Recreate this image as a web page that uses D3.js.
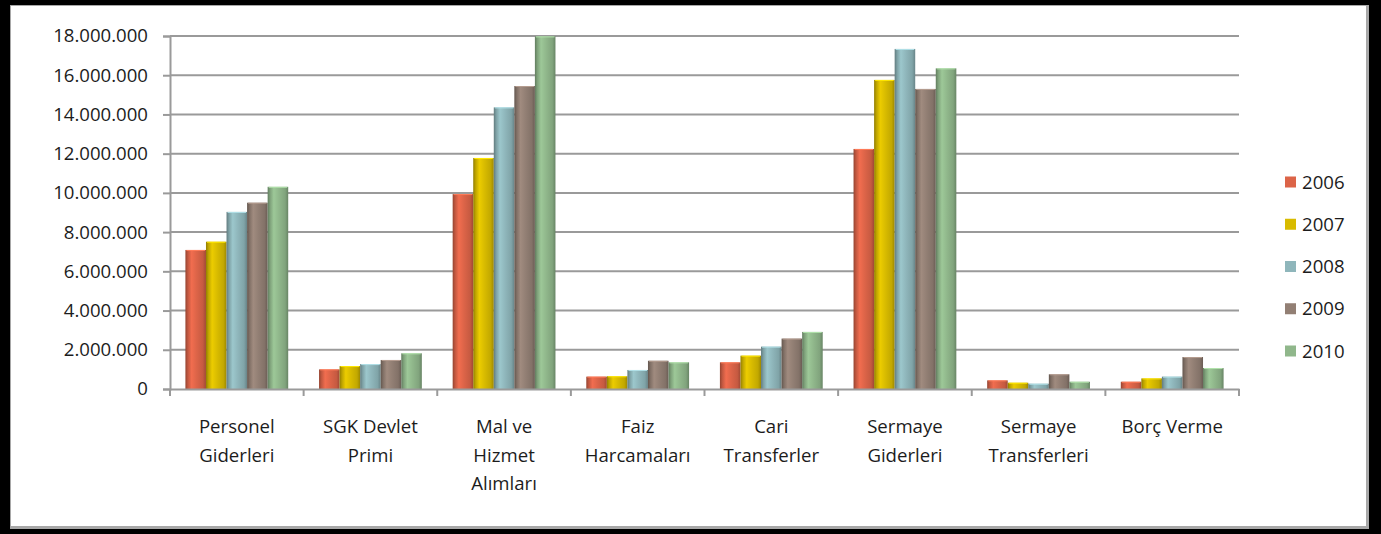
<!DOCTYPE html>
<html>
<head>
<meta charset="utf-8">
<script src="https://cdn.jsdelivr.net/npm/d3@7"></script>
<style>
  html, body { margin: 0; padding: 0; background: #000; }
  svg { display: block; }
  .lbl { font-family: "Open Sans", "DejaVu Sans", sans-serif; font-size: 18.6px; fill: #1c1c1c; }
</style>
</head>
<body>
<svg id="chart" width="1381" height="534"></svg>
<script>
// ---- data ----
const categories = [
  'Personel Giderleri', 'SGK Devlet Primi', 'Mal ve Hizmet Alımları', 'Faiz Harcamaları',
  'Cari Transferler', 'Sermaye Giderleri', 'Sermaye Transferleri', 'Borç Verme'
];
// wrapped tick label lines, as shown under the axis
const categoryLines = [
  ['Personel', 'Giderleri'], ['SGK Devlet', 'Primi'], ['Mal ve', 'Hizmet', 'Alımları'],
  ['Faiz', 'Harcamaları'], ['Cari', 'Transferler'], ['Sermaye', 'Giderleri'],
  ['Sermaye', 'Transferleri'], ['Borç Verme']
];
const years = ['2006', '2007', '2008', '2009', '2010'];

const v2006 = [7090000, 1000000, 9940000, 630000, 1360000, 12240000, 440000, 370000];
const v2007 = [7510000, 1170000, 11780000, 650000, 1700000, 15760000, 320000, 540000];
const v2008 = [9030000, 1270000, 14360000, 970000, 2160000, 17340000, 270000, 630000];
const v2009 = [9500000, 1480000, 15450000, 1440000, 2570000, 15300000, 750000, 1630000];
const v2010 = [10310000, 1820000, 17980000, 1360000, 2910000, 16350000, 370000, 1070000];
const seriesValues = [v2006, v2007, v2008, v2009, v2010];

const yTicks = [0, 2e6, 4e6, 6e6, 8e6, 10e6, 12e6, 14e6, 16e6, 18e6];

const seriesColors = ['#dc6448', '#d8bb00', '#8fb6bb', '#927f74', '#90b78b'];

// ---- layout ----
const plot = { left: 170, right: 1239, top: 36, bottom: 389 };

const svg = d3.select('#chart');

// frame: white panel inside the black border
svg.append('rect')
  .attr('x', 10).attr('y', 5).attr('width', 1359).attr('height', 524)
  .attr('fill', '#a8a8a8');
svg.append('rect')
  .attr('x', 11).attr('y', 6).attr('width', 1355).attr('height', 520)
  .attr('fill', '#fff');

const fmt = d3.formatLocale({ decimal: ',', thousands: '.', grouping: [3], currency: ['', ''] }).format(',d');

const y = d3.scaleLinear().domain([0, 18e6]).range([plot.bottom, plot.top]);
const x = d3.scaleBand().domain(categories).range([plot.left, plot.right]);
const xs = d3.scaleBand().domain(years).range([0, x.bandwidth()]).paddingInner(0).paddingOuter(0.75);

// bar gradients (dark edges, light stripe left of centre)
const defs = svg.append('defs');
years.forEach((yr, i) => {
  const base = d3.color(seriesColors[i]);
  const g = defs.append('linearGradient').attr('id', 'g' + yr)
    .attr('x1', 0).attr('x2', 1).attr('y1', 0).attr('y2', 0);
  const stops = [
    [0, base.darker(1.1)],
    [0.12, base.darker(0.35)],
    [0.3, base.brighter(0.25)],
    [0.55, base],
    [0.85, base.darker(0.3)],
    [1, base.darker(0.9)]
  ];
  stops.forEach(s => g.append('stop').attr('offset', s[0]).attr('stop-color', s[1].formatHex()));
});

// gridlines
svg.append('g').selectAll('line')
  .data(yTicks.filter(t => t > 0))
  .join('line')
  .attr('x1', plot.left).attr('x2', plot.right)
  .attr('y1', d => y(d)).attr('y2', d => y(d))
  .attr('stroke', '#9a9a9a').attr('stroke-width', 2);

// y axis
const yAxis = svg.append('g')
  .attr('transform', `translate(${plot.left},0)`)
  .call(d3.axisLeft(y).tickValues(yTicks).tickFormat(fmt).tickSize(7).tickPadding(15));
yAxis.select('.domain').attr('stroke', '#9a9a9a').attr('stroke-width', 2);
yAxis.selectAll('.tick line').attr('stroke', '#9a9a9a').attr('stroke-width', 2);
yAxis.selectAll('.tick text').attr('class', 'lbl').attr('fill', null).attr('font-size', null).attr('font-family', null);

// bars
const groups = svg.append('g').selectAll('g')
  .data(categories)
  .join('g')
  .attr('transform', d => `translate(${x(d)},0)`);

groups.selectAll('rect')
  .data((c, ci) => years.map((yr, si) => ({ yr, v: seriesValues[si][ci] })))
  .join('rect')
  .attr('x', d => xs(d.yr))
  .attr('y', d => y(d.v))
  .attr('width', xs.bandwidth())
  .attr('height', d => plot.bottom - y(d.v))
  .attr('fill', d => `url(#g${d.yr})`);

// top highlight on each bar
groups.selectAll('line.cap')
  .data((c, ci) => years.map((yr, si) => ({ yr, v: seriesValues[si][ci], i: si })))
  .join('line')
  .attr('class', 'cap')
  .attr('x1', d => xs(d.yr) + 1).attr('x2', d => xs(d.yr) + xs.bandwidth() - 1)
  .attr('y1', d => y(d.v) + 0.5).attr('y2', d => y(d.v) + 0.5)
  .attr('stroke', d => d3.color(seriesColors[d.i]).brighter(0.6).formatHex())
  .attr('stroke-width', 1);

// x axis
const xAxis = svg.append('g')
  .attr('transform', `translate(0,${plot.bottom})`)
  .call(d3.axisBottom(x).tickSize(0).tickFormat(''));
xAxis.select('.domain').attr('stroke', '#9a9a9a').attr('stroke-width', 2);

// category separators
svg.append('g').selectAll('line')
  .data(categories.map(c => x(c)).concat([plot.right]))
  .join('line')
  .attr('x1', d => d).attr('x2', d => d)
  .attr('y1', plot.bottom).attr('y2', plot.bottom + 7)
  .attr('stroke', '#9a9a9a').attr('stroke-width', 2);

// category labels
const catText = svg.append('g').selectAll('text')
  .data(categories)
  .join('text')
  .attr('class', 'lbl')
  .attr('text-anchor', 'middle')
  .attr('x', d => x(d) + x.bandwidth() / 2)
  .attr('y', 433);
catText.selectAll('tspan')
  .data((d, i) => categoryLines[i])
  .join('tspan')
  .attr('x', function() { return this.parentNode.getAttribute('x'); })
  .attr('dy', (d, i) => i === 0 ? 0 : 28.5)
  .text(d => d);

// legend
const legendY = d3.scalePoint().domain(years).range([182, 351]);
const legend = svg.append('g').selectAll('g')
  .data(years)
  .join('g')
  .attr('transform', d => `translate(1285,${legendY(d)})`);
legend.append('rect')
  .attr('x', 0).attr('y', -5.5).attr('width', 11).attr('height', 11)
  .attr('fill', (d, i) => seriesColors[i]);
legend.append('text')
  .attr('class', 'lbl')
  .attr('x', 17).attr('y', 0).attr('dy', '0.35em')
  .text(d => d);
</script>
</body>
</html>
